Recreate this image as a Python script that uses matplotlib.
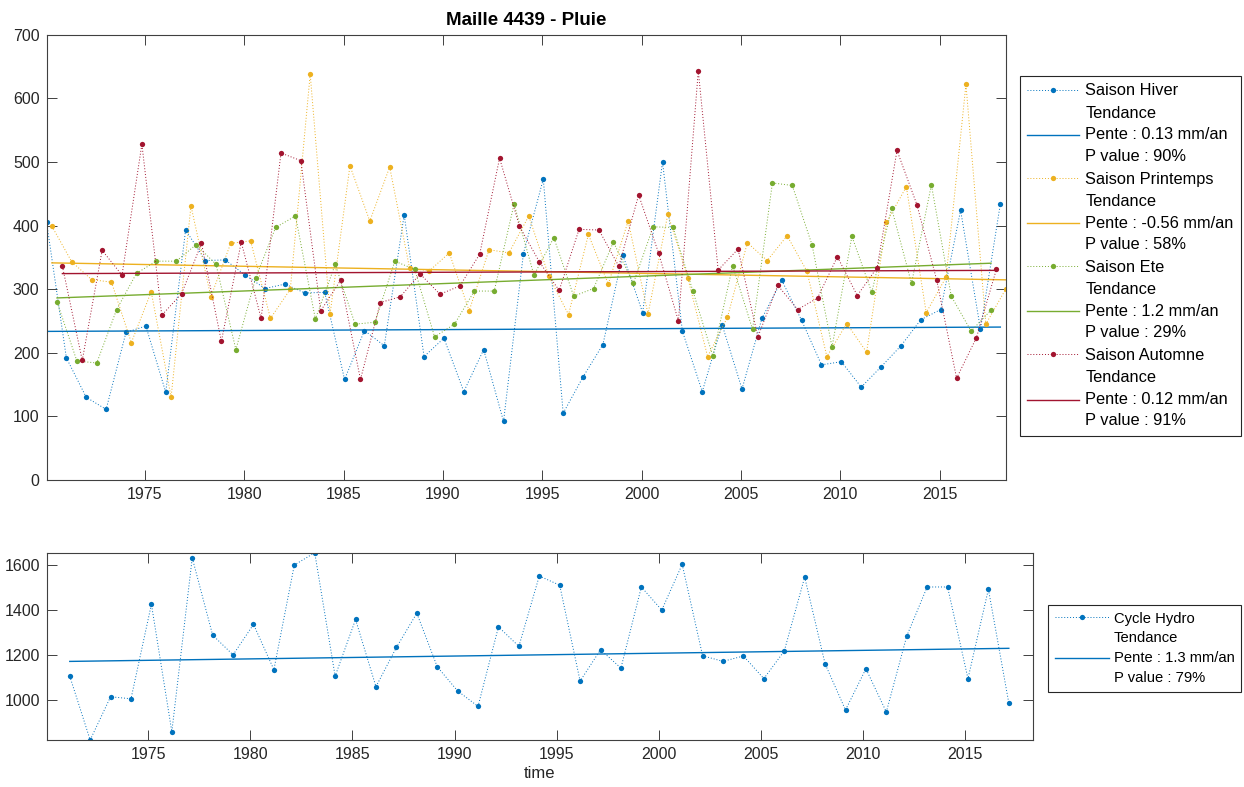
import numpy as np
import matplotlib
matplotlib.use("Agg")
import matplotlib.pyplot as plt

# seasonal rainfall (mm), one value per year
years = np.arange(1970, 2019)
hiver = [406, 192, 130, 111, 232, 242, 138, 393, 345, 346, 322, 301, 308, 294, 295, 158,
         235, 211, 417, 194, 223, 139, 205, 92, 356, 473, 105, 162, 213, 354, 263, 500,
         234, 139, 244, 143, 254, 314, 251, 181, 186, 146, 178, 211, 252, 268, 424, 237, 434]
printemps = [399, 343, 315, 311, 216, 296, 130, 431, 288, 372, 376, 254, 300, 638, 261, 494,
             407, 492, 333, 329, 357, 266, 362, 357, 415, 321, 260, 386, 308, 407, 261, 418,
             318, 194, 256, 373, 345, 384, 328, 194, 246, 201, 405, 461, 263, 319, 622, 245, 300]
ete = [280, 187, 184, 268, 325, 344, 344, 370, 339, 205, 318, 397, 415, 253, 339, 245,
       248, 344, 331, 225, 245, 297, 297, 434, 322, 381, 289, 301, 374, 309, 398, 397,
       297, 195, 337, 237, 467, 463, 369, 209, 383, 295, 427, 309, 464, 289, 234, 267]
automne = [336, 188, 361, 322, 528, 259, 293, 372, 218, 374, 254, 514, 502, 266, 314, 158,
           279, 288, 324, 292, 305, 355, 506, 399, 343, 298, 394, 393, 336, 448, 357, 250,
           643, 330, 363, 225, 306, 268, 286, 351, 290, 334, 518, 433, 314, 160, 224, 331]

# position of each season inside its year (fraction of year)
season_offset = [0.05, 0.32, 0.58, 0.85]
season_names = ['Saison Hiver', 'Saison Printemps', 'Saison Ete', 'Saison Automne']
pentes = ['0.13', '-0.56', '1.2', '0.12']
pvalues = ['90%', '58%', '29%', '91%']

# hydrological year totals
hydro_years = np.arange(1971, 2018)
hydro_offset = 0.15
hydro = [1105, 820, 1013, 1004, 1426, 857, 1633, 1288, 1200, 1336, 1134, 1601, 1656, 1105,
         1358, 1058, 1233, 1386, 1147, 1039, 970, 1325, 1238, 1552, 1511, 1083, 1223, 1141,
         1503, 1400, 1604, 1196, 1171, 1195, 1094, 1217, 1547, 1160, 954, 1138, 945, 1284,
         1503, 1503, 1094, 1493, 985]
hydro_pente = '1.3'
hydro_pvalue = '79%'

colors = ['#0072BD', '#EDB120', '#77AC30', '#A2142F']
dark = '#262626'


def sen_trend(x, y):
    """Sen slope (median of pairwise slopes) and median based intercept."""
    i, j = np.triu_indices(len(x), k=1)
    slope = np.median((y[j] - y[i]) / (x[j] - x[i]))
    inter = np.median(y) - slope * np.median(x)
    return slope, inter


plt.rcParams['font.family'] = ['Liberation Sans', 'DejaVu Sans']
plt.rcParams['axes.edgecolor'] = '#404040'
plt.rcParams['axes.linewidth'] = 0.8

W, H = 1244, 787
fig = plt.figure(figsize=(W / 100, H / 100), dpi=100)

# axes placed in pixel units converted to figure fractions
ax1 = fig.add_axes([46.5 / W, 1 - 480 / H, 959.2 / W, 445.3 / H])
ax2 = fig.add_axes([47.3 / W, 1 - 740 / H, 985.4 / W, 187.3 / H])

series = [hiver, printemps, ete, automne]
xmin = years[0] + season_offset[0]
xmax = years[-1] + season_offset[1]

for vals, off, col, name, pente, pv in zip(series, season_offset, colors,
                                           season_names, pentes, pvalues):
    x = years[:len(vals)] + off
    y = np.array(vals, dtype=float)
    ax1.plot(x, y, linestyle=(0, (1, 2)), linewidth=0.7, color=col,
             marker='o', markersize=3.8, markeredgewidth=0, label=name)
    # trend line
    s, b = sen_trend(x, y)
    ax1.plot([x[0], x[-1]], [s * x[0] + b, s * x[-1] + b], color=col, linewidth=1.0,
             label='Tendance\nPente : %s mm/an\nP value : %s' % (pente, pv))

ax1.set_xlim(xmin, xmax)
ax1.set_ylim(0, 700)
ax1.set_yticks(np.arange(0, 701, 100))
ax1.set_xticks(np.arange(1975, 2016, 5))
ax1.set_title('Maille 4439 - Pluie', fontsize=13.5, fontweight='bold', color='black', pad=7)

xh = hydro_years + hydro_offset
yh = np.array(hydro, dtype=float)
ax2.plot(xh, yh, linestyle=(0, (1, 2)), linewidth=0.7, color=colors[0],
         marker='o', markersize=3.8, markeredgewidth=0, label='Cycle Hydro')
sh, bh = sen_trend(xh, yh)
ax2.plot([xh[0], xh[-1]], [sh * xh[0] + bh, sh * xh[-1] + bh], color=colors[0], linewidth=1.0,
         label='Tendance\nPente : %s mm/an\nP value : %s' % (hydro_pente, hydro_pvalue))
ax2.set_xlim(xmin, xmax)
ax2.set_ylim(yh.min(), yh.max())
ax2.set_yticks(np.arange(1000, 1601, 200))
ax2.set_xticks(np.arange(1975, 2016, 5))
ax2.set_xlabel('time', fontsize=12, color=dark, labelpad=3)

for ax in (ax1, ax2):
    ax.tick_params(direction='in', top=True, right=True, length=7, width=0.7,
                   color='#404040', labelcolor=dark, labelsize=11.5, pad=5)

# legends outside on the right
leg1 = ax1.legend(loc='upper left', bbox_to_anchor=(1020 / W, 1 - 76 / H),
                  bbox_transform=fig.transFigure, fontsize=11.8, frameon=True,
                  fancybox=False, framealpha=1, edgecolor=dark, borderpad=0.45,
                  handlelength=3.15, handletextpad=0.38, labelspacing=0.47,
                  borderaxespad=0)
leg1.get_frame().set_linewidth(0.8)
for t in leg1.get_texts():
    t.set_linespacing(1.53)

leg2 = ax2.legend(loc='upper left', bbox_to_anchor=(1048 / W, 1 - 605 / H),
                  bbox_transform=fig.transFigure, fontsize=10.6, frameon=True,
                  fancybox=False, framealpha=1, edgecolor=dark, borderpad=0.45,
                  handlelength=3.67, handletextpad=0.34, labelspacing=0.35,
                  borderaxespad=0)
leg2.get_frame().set_linewidth(0.8)
for t in leg2.get_texts():
    t.set_linespacing(1.55)

fig.savefig('out.png', dpi=100, facecolor='white')
